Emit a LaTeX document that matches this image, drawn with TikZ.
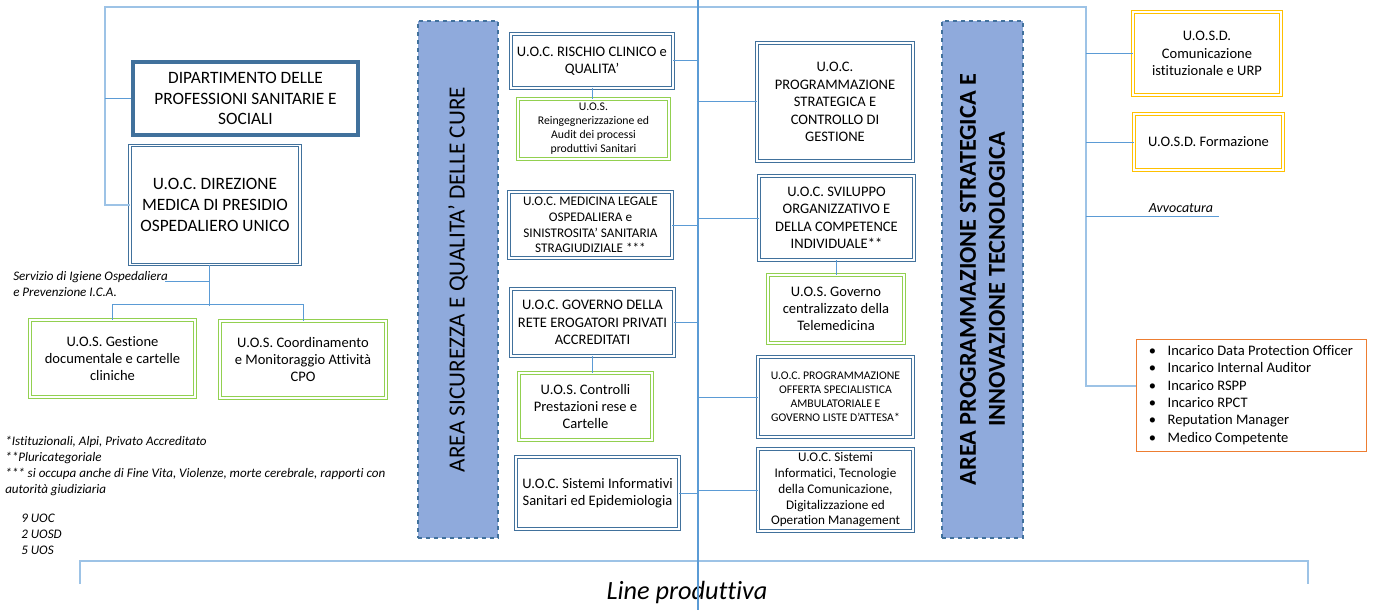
\documentclass[tikz,border=0pt]{standalone}
\usepackage{fontspec}
\setmainfont{Carlito}[Ligatures={NoCommon}]
\usetikzlibrary{calc}
\definecolor{uocblue}{HTML}{41719C}
\definecolor{uosgreen}{HTML}{92D050}
\definecolor{uosdgold}{HTML}{FFC000}
\definecolor{listorange}{HTML}{ED7D31}
\definecolor{areafill}{HTML}{8FAADC}
\definecolor{linkblue}{HTML}{5B9BD5}
\definecolor{trunkblue}{HTML}{9DC3E6}
\newcommand\fbig{\fontsize{13pt}{15.5pt}\selectfont}
\newcommand\fmid{\fontsize{10.9pt}{13pt}\selectfont}
\newcommand\fnine{\fontsize{9.9pt}{11.8pt}\selectfont}
\newcommand\fsml{\fontsize{8.8pt}{10.5pt}\selectfont}
\newcommand\fnote{\fontsize{9.8pt}{12pt}\selectfont\itshape}
\begin{document}
\begin{tikzpicture}[x=0.75pt,y=-0.75pt,
  sz/.style 2 args={minimum width=#1*0.75pt, minimum height=#2*0.75pt},
  boxbase/.style={rectangle, align=center, inner sep=1pt, fill=white,
    double=white, double distance=1.1pt, line width=0.7pt, font=\fmid},
  uoc/.style={boxbase, draw=uocblue},
  uos/.style={boxbase, draw=uosgreen},
  uosd/.style={boxbase, draw=uosdgold},
  area/.style={rectangle, draw=uocblue, dashed, line width=0.8pt, fill=areafill},
  link/.style={draw=linkblue, line width=0.75pt},
  trunk/.style={draw=trunkblue, line width=1.4pt},
  spine/.style={draw=linkblue, line width=1.5pt},
  note/.style={align=left, inner sep=0pt, font=\fnote}
]
\useasboundingbox (0,0) rectangle (1375,610);

% shaded areas
\node[area, sz={80}{517}] (areaL) at (458,279.5) {};
\node[rotate=90, font=\fontsize{17.4pt}{20pt}\selectfont] (areaLtxt) at (areaL.center)
  {AREA SICUREZZA E QUALITA’ DELLE CURE};
\node[area, sz={81}{517}] (areaR) at (982.5,279.5) {};
\node[rotate=90, align=center, font=\fontsize{18.2pt}{21.8pt}\selectfont\bfseries] (areaRtxt) at (areaR.center)
  {AREA PROGRAMMAZIONE STRATEGICA E\\INNOVAZIONE TECNOLOGICA};

% central spine and frame coordinates
\coordinate (ctop) at (698,0);
\coordinate (cbot) at (698,610);
\coordinate (ltop) at (105,7);
\coordinate (rtop) at (1086,7);
\coordinate (bl) at (80,584);
\coordinate (br) at (1308,584);

% left block
\node[draw=uocblue, line width=3pt, align=center, font=\fbig, sz={225}{73}] (dip) at (245.5,98.5)
  {DIPARTIMENTO DELLE\\PROFESSIONI SANITARIE E\\SOCIALI};
\node[uoc, font=\fbig, sz={170}{119}] (direz) at (215,205)
  {U.O.C. DIREZIONE\\MEDICA DI PRESIDIO\\OSPEDALIERO UNICO};
\node[uos, sz={165}{77}] (gest) at (112.5,358.5)
  {U.O.S. Gestione\\documentale e cartelle\\cliniche};
\node[uos, sz={166}{77}] (coord) at (303,359.5)
  {U.O.S. Coordinamento\\e Monitoraggio Attività\\CPO};
\node[note, anchor=west] (serv) at (13,284)
  {Servizio di Igiene Ospedaliera\\e Prevenzione I.C.A.};
\coordinate (servend) at (165,281);
\coordinate (hub) at (209,306);

% central left column
\node[uoc, sz={162}{54}] (rischio) at (592,61)
  {U.O.C. RISCHIO CLINICO e\\QUALITA’};
\node[uos, font=\fsml, sz={151}{60}] (reing) at (593.5,129)
  {U.O.S.\\Reingegnerizzazione ed\\Audit dei processi\\produttivi Sanitari};
\node[uoc, font=\fnine, sz={163}{66}] (medleg) at (590.5,225)
  {U.O.C. MEDICINA LEGALE\\OSPEDALIERA e\\SINISTROSITA’ SANITARIA\\STRAGIUDIZIALE ***};
\node[uoc, sz={163}{67}] (governo) at (592.5,322.5)
  {U.O.C. GOVERNO DELLA\\RETE EROGATORI PRIVATI\\ACCREDITATI};
\node[uos, sz={133}{67}] (controlli) at (585.5,406.5)
  {U.O.S. Controlli\\Prestazioni rese e\\Cartelle};
\node[uoc, sz={163}{72}] (sisan) at (597.5,493)
  {U.O.C. Sistemi Informativi\\Sanitari ed Epidemiologia};

% central right column
\node[uoc, sz={156}{118}] (progstrat) at (835,102)
  {U.O.C.\\PROGRAMMAZIONE\\STRATEGICA E\\CONTROLLO DI\\GESTIONE};
\node[uoc, sz={155}{84}] (svil) at (836.5,218)
  {U.O.C. SVILUPPO\\ORGANIZZATIVO E\\DELLA COMPETENCE\\INDIVIDUALE**};
\node[uos, sz={136}{68}] (tele) at (836,309)
  {U.O.S. Governo\\centralizzato della\\Telemedicina};
\node[uoc, font=\fsml, sz={155}{80}] (offerta) at (835.5,397)
  {U.O.C. PROGRAMMAZIONE\\OFFERTA SPECIALISTICA\\AMBULATORIALE E\\GOVERNO LISTE D’ATTESA*};
\node[uoc, font=\fnine, sz={155}{82}] (sisinf) at (835.5,490)
  {U.O.C. Sistemi\\Informatici, Tecnologie\\della Comunicazione,\\Digitalizzazione ed\\Operation Management};

% right block
\node[uosd, sz={148}{83}] (comm) at (1207,53.5)
  {U.O.S.D.\\Comunicazione\\istituzionale e URP};
\node[uosd, sz={149}{56}] (form) at (1208.5,142)
  {U.O.S.D. Formazione};
\node[note, anchor=south east, inner sep=2pt, font=\fontsize{10.5pt}{12pt}\selectfont\itshape] (avv) at (1216,216) {Avvocatura};
\node[draw=listorange, line width=0.5pt, align=left, font=\fmid, inner sep=2pt,
      sz={230}{112}] (list) at (1251,395)
  {\makebox[14pt][l]{\textbullet}Incarico Data Protection Officer\\
   \makebox[14pt][l]{\textbullet}Incarico Internal Auditor\\
   \makebox[14pt][l]{\textbullet}Incarico RSPP\\
   \makebox[14pt][l]{\textbullet}Incarico RPCT\\
   \makebox[14pt][l]{\textbullet}Reputation Manager\\
   \makebox[14pt][l]{\textbullet}Medico Competente};

% footnotes and counts
\node[note, anchor=north west] (notes) at (5,436)
  {*Istituzionali, Alpi, Privato Accreditato\\**Pluricategoriale\\*** si occupa anche di Fine Vita, Violenze, morte cerebrale, rapporti con\\autorità giudiziaria};
\node[note, anchor=north west] (counts) at (21,514) {9 UOC\\2 UOSD\\5 UOS};
\node[font=\fontsize{19.7pt}{23pt}\selectfont\itshape] (line) at (687,592) {Line produttiva};

% frame lines
\draw[trunk] (direz.west) -| (ltop) -- (rtop) |- ($(list.west)+(0,-9)$);
\draw[trunk] (bl) -- ++(0,-23) -| (br);
\draw[spine] (ctop) -- (cbot);

% connectors
\draw[link] (dip.west) -- (dip.west -| ltop);
\draw[link] (direz.south -| hub) -- (hub);
\draw[link] (servend) -- (servend -| hub);
\draw[link] (gest.north) -- ++(0,-15) -| (coord.north);
\draw[link] (rischio.south) -- (rischio.south |- reing.north);
\draw[link] (governo.south) -- (governo.south |- controlli.north);
\draw[link] (svil.south) -- (svil.south |- tele.north);
\foreach \n in {rischio,medleg,governo,sisan}
  \draw[link] (\n.east) -- (\n.east -| ctop);
\foreach \n in {progstrat,svil,offerta,sisinf}
  \draw[link] (\n.west) -- (\n.west -| ctop);
\foreach \n in {comm,form}
  \draw[link] (\n.west) -- (\n.west -| rtop);
\draw[link] (1219,216) -- (1219,216 -| rtop);
\end{tikzpicture}
\end{document}
